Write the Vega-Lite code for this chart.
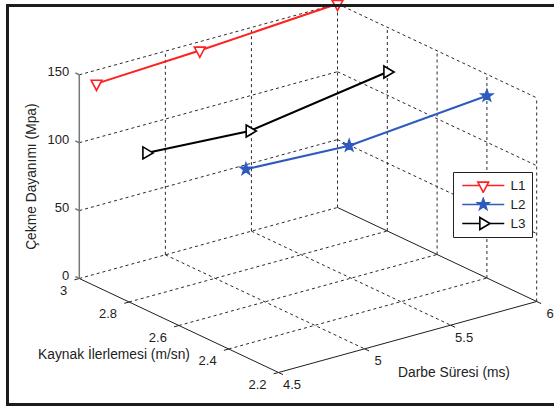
{
  "$schema": "https://vega.github.io/schema/vega-lite/v6.json",
  "width": 554,
  "height": 407,
  "autosize": {"type": "none", "contains": "padding"},
  "padding": {"left": 7, "top": 5, "right": 0, "bottom": 3},
  "background": "white",
  "config": {
    "view": {"stroke": null},
    "legend": {
      "orient": "none",
      "legendX": 446,
      "legendY": 167,
      "padding": 6,
      "strokeColor": "#222222",
      "fillColor": "white",
      "symbolSize": 144,
      "symbolStrokeWidth": 1.6,
      "symbolOffset": 17.25,
      "labelOffset": 20.25,
      "labelFont": "Liberation Sans",
      "labelFontSize": 13.5,
      "labelColor": "#222222",
      "clipHeight": 15,
      "rowPadding": 4
    }
  },
  "data": {
    "values": [
      {"kind": "pt", "series": "L1", "x": 4.6, "y": 3.0, "z": 140.0},
      {"kind": "pt", "series": "L1", "x": 5.2, "y": 3.0, "z": 143.5},
      {"kind": "pt", "series": "L1", "x": 6.0, "y": 3.0, "z": 150.0},
      {"kind": "pt", "series": "L2", "x": 4.6, "y": 2.4, "z": 128.9},
      {"kind": "pt", "series": "L2", "x": 5.2, "y": 2.4, "z": 125.3},
      {"kind": "pt", "series": "L2", "x": 6.0, "y": 2.4, "z": 134.2},
      {"kind": "pt", "series": "L3", "x": 4.6, "y": 2.8, "z": 106.3},
      {"kind": "pt", "series": "L3", "x": 5.2, "y": 2.8, "z": 101.5},
      {"kind": "pt", "series": "L3", "x": 6.0, "y": 2.8, "z": 117.1},

      {"kind": "grid", "x": 5.0, "y": 3.0, "z": 0, "x2": 5.0, "y2": 2.2, "z2": 0},
      {"kind": "grid", "x": 5.5, "y": 3.0, "z": 0, "x2": 5.5, "y2": 2.2, "z2": 0},
      {"kind": "grid", "x": 4.5, "y": 3.0, "z": 0, "x2": 6.0, "y2": 3.0, "z2": 0},
      {"kind": "grid", "x": 4.5, "y": 2.8, "z": 0, "x2": 6.0, "y2": 2.8, "z2": 0},
      {"kind": "grid", "x": 4.5, "y": 2.6, "z": 0, "x2": 6.0, "y2": 2.6, "z2": 0},
      {"kind": "grid", "x": 4.5, "y": 2.4, "z": 0, "x2": 6.0, "y2": 2.4, "z2": 0},
      {"kind": "grid", "x": 5.0, "y": 3.0, "z": 0, "x2": 5.0, "y2": 3.0, "z2": 150},
      {"kind": "grid", "x": 5.5, "y": 3.0, "z": 0, "x2": 5.5, "y2": 3.0, "z2": 150},
      {"kind": "grid", "x": 6.0, "y": 3.0, "z": 0, "x2": 6.0, "y2": 3.0, "z2": 150},
      {"kind": "grid", "x": 4.5, "y": 3.0, "z": 50, "x2": 6.0, "y2": 3.0, "z2": 50},
      {"kind": "grid", "x": 4.5, "y": 3.0, "z": 100, "x2": 6.0, "y2": 3.0, "z2": 100},
      {"kind": "grid", "x": 4.5, "y": 3.0, "z": 150, "x2": 6.0, "y2": 3.0, "z2": 150},
      {"kind": "grid", "x": 6.0, "y": 2.8, "z": 0, "x2": 6.0, "y2": 2.8, "z2": 150},
      {"kind": "grid", "x": 6.0, "y": 2.6, "z": 0, "x2": 6.0, "y2": 2.6, "z2": 150},
      {"kind": "grid", "x": 6.0, "y": 2.4, "z": 0, "x2": 6.0, "y2": 2.4, "z2": 150},
      {"kind": "grid", "x": 6.0, "y": 2.2, "z": 0, "x2": 6.0, "y2": 2.2, "z2": 150},
      {"kind": "grid", "x": 6.0, "y": 3.0, "z": 50, "x2": 6.0, "y2": 2.2, "z2": 50},
      {"kind": "grid", "x": 6.0, "y": 3.0, "z": 100, "x2": 6.0, "y2": 2.2, "z2": 100},
      {"kind": "grid", "x": 6.0, "y": 3.0, "z": 150, "x2": 6.0, "y2": 2.2, "z2": 150},

      {"kind": "axis", "x": 4.5, "y": 3.0, "z": 0, "x2": 4.5, "y2": 2.2, "z2": 0},
      {"kind": "axis", "x": 4.5, "y": 2.2, "z": 0, "x2": 6.0, "y2": 2.2, "z2": 0},
      {"kind": "axis", "x": 6.0, "y": 3.0, "z": 0, "x2": 6.0, "y2": 2.2, "z2": 0},
      {"kind": "zaxis", "x": 4.5, "y": 3.0, "z": 0, "x2": 4.5, "y2": 3.0, "z2": 150},

      {"kind": "ztick", "x": 4.5, "y": 3.0, "z": 0, "x2": 4.5, "y2": 3.016, "z2": 0},
      {"kind": "ztick", "x": 4.5, "y": 3.0, "z": 50, "x2": 4.5, "y2": 3.016, "z2": 50},
      {"kind": "ztick", "x": 4.5, "y": 3.0, "z": 100, "x2": 4.5, "y2": 3.016, "z2": 100},
      {"kind": "ztick", "x": 4.5, "y": 3.0, "z": 150, "x2": 4.5, "y2": 3.016, "z2": 150},
      {"kind": "tick", "x": 4.5, "y": 3.0, "z": 0, "x2": 4.472, "y2": 3.0, "z2": 0},
      {"kind": "tick", "x": 4.5, "y": 2.8, "z": 0, "x2": 4.472, "y2": 2.8, "z2": 0},
      {"kind": "tick", "x": 4.5, "y": 2.6, "z": 0, "x2": 4.472, "y2": 2.6, "z2": 0},
      {"kind": "tick", "x": 4.5, "y": 2.4, "z": 0, "x2": 4.472, "y2": 2.4, "z2": 0},
      {"kind": "tick", "x": 4.5, "y": 2.2, "z": 0, "x2": 4.472, "y2": 2.2, "z2": 0},
      {"kind": "tick", "x": 4.5, "y": 2.2, "z": 0, "x2": 4.5, "y2": 2.182, "z2": 0},
      {"kind": "tick", "x": 5.0, "y": 2.2, "z": 0, "x2": 5.0, "y2": 2.182, "z2": 0},
      {"kind": "tick", "x": 5.5, "y": 2.2, "z": 0, "x2": 5.5, "y2": 2.182, "z2": 0},
      {"kind": "tick", "x": 6.0, "y": 2.2, "z": 0, "x2": 6.0, "y2": 2.182, "z2": 0},

      {"kind": "zl", "x": 4.5, "y": 3.0, "z": 0, "label": "0"},
      {"kind": "zl", "x": 4.5, "y": 3.0, "z": 50, "label": "50"},
      {"kind": "zl", "x": 4.5, "y": 3.0, "z": 100, "label": "100"},
      {"kind": "zl", "x": 4.5, "y": 3.0, "z": 150, "label": "150"},
      {"kind": "yl", "x": 4.5, "y": 3.0, "z": 0, "label": "3"},
      {"kind": "yl", "x": 4.5, "y": 2.8, "z": 0, "label": "2.8"},
      {"kind": "yl", "x": 4.5, "y": 2.6, "z": 0, "label": "2.6"},
      {"kind": "yl", "x": 4.5, "y": 2.4, "z": 0, "label": "2.4"},
      {"kind": "yl", "x": 4.5, "y": 2.2, "z": 0, "label": "2.2"},
      {"kind": "xl", "x": 4.5, "y": 2.2, "z": 0, "label": "4.5"},
      {"kind": "xl", "x": 5.0, "y": 2.2, "z": 0, "label": "5"},
      {"kind": "xl", "x": 5.5, "y": 2.2, "z": 0, "label": "5.5"},
      {"kind": "xl", "x": 6.0, "y": 2.2, "z": 0, "label": "6"},

      {"kind": "tz", "x": 4.5, "y": 3.0, "z": 75, "label": "Çekme Dayanımı (Mpa)"},
      {"kind": "ty", "x": 4.5, "y": 2.6, "z": 0, "label": "Kaynak İlerlemesi (m/sn)"},
      {"kind": "tx", "x": 5.25, "y": 2.2, "z": 0, "label": "Darbe Süresi (ms)"}
    ]
  },
  "transform": [
    {"calculate": "258.2*(datum.x-4.5)/1.5 + 199.2*(3-datum.y)/0.8", "as": "sx"},
    {"calculate": "-71*(datum.x-4.5)/1.5 + 94*(3-datum.y)/0.8 - 203.7*datum.z/150", "as": "sy"},
    {"calculate": "258.2*(datum.x2-4.5)/1.5 + 199.2*(3-datum.y2)/0.8", "as": "sx2"},
    {"calculate": "-71*(datum.x2-4.5)/1.5 + 94*(3-datum.y2)/0.8 - 203.7*datum.z2/150", "as": "sy2"}
  ],
  "encoding": {
    "x": {"field": "sx", "type": "quantitative", "scale": {"domain": [-72.3, 474.7], "nice": false, "zero": false}, "axis": null},
    "y": {"field": "sy", "type": "quantitative", "scale": {"domain": [-273.5, 125.5], "nice": false, "zero": false, "reverse": true}, "axis": null}
  },
  "layer": [
    {
      "transform": [{"filter": "datum.kind == 'grid'"}],
      "mark": {"type": "rule", "stroke": "#2a2a2a", "strokeWidth": 1, "strokeDash": [3, 3]},
      "encoding": {
        "x": {"field": "sx", "type": "quantitative", "scale": {"domain": [-72.3, 474.7], "nice": false, "zero": false},
              "axis": {"orient": "top", "domain": true, "domainColor": "#1c1c1c", "domainWidth": 3, "domainCap": "square", "ticks": false, "labels": false, "grid": false, "title": null, "zindex": 1}},
        "x2": {"field": "sx2"}, "y2": {"field": "sy2"}
      }
    },
    {
      "transform": [{"filter": "datum.kind == 'axis' || datum.kind == 'tick'"}],
      "mark": {"type": "rule", "stroke": "#1e1e1e", "strokeWidth": 1},
      "encoding": {
        "x": {"field": "sx", "type": "quantitative", "scale": {"domain": [-72.3, 474.7], "nice": false, "zero": false},
              "axis": {"orient": "bottom", "domain": true, "domainColor": "#1c1c1c", "domainWidth": 3, "domainCap": "square", "ticks": false, "labels": false, "grid": false, "title": null, "zindex": 1}},
        "y": {"field": "sy", "type": "quantitative", "scale": {"domain": [-273.5, 125.5], "nice": false, "zero": false, "reverse": true},
              "axis": {"orient": "left", "domain": true, "domainColor": "#1c1c1c", "domainWidth": 3, "domainCap": "square", "ticks": false, "labels": false, "grid": false, "title": null, "zindex": 1}},
        "x2": {"field": "sx2"}, "y2": {"field": "sy2"}
      }
    },
    {
      "transform": [{"filter": "datum.kind == 'zaxis' || datum.kind == 'ztick'"}],
      "mark": {"type": "rule", "stroke": "#777777", "strokeWidth": 1.5},
      "encoding": {"x2": {"field": "sx2"}, "y2": {"field": "sy2"}}
    },
    {
      "transform": [{"filter": "datum.kind == 'pt'"}],
      "mark": {"type": "line", "strokeWidth": 2},
      "encoding": {
        "stroke": {"field": "series", "type": "nominal", "scale": {"domain": ["L1", "L2", "L3"], "range": ["#ff2020", "#2f5bbd", "#000000"]}, "legend": null},
        "order": {"field": "x", "type": "quantitative"}
      }
    },
    {
      "transform": [{"filter": "datum.kind == 'pt'"}],
      "mark": {"type": "point", "filled": false, "opacity": 1, "size": 144, "strokeWidth": 1.6},
      "encoding": {
        "shape": {"field": "series", "type": "nominal", "scale": {"domain": ["L1", "L2", "L3"], "range": [
          "M-0.9,-0.567L0.9,-0.567L0,1.133Z",
          "M0,-1L0.235,-0.324L0.951,-0.309L0.38,0.124L0.588,0.809L0,0.4L-0.588,0.809L-0.38,0.124L-0.951,-0.309L-0.235,-0.324Z",
          "M-0.567,-1L1.133,0L-0.567,1Z"
        ]}, "legend": null},
        "stroke": {"field": "series", "type": "nominal", "scale": {"domain": ["L1", "L2", "L3"], "range": ["#ff2020", "#2f5bbd", "#000000"]}, "legend": null},
        "fill": {"field": "series", "type": "nominal", "scale": {"domain": ["L1", "L2", "L3"], "range": ["#ffffff", "#2f5bbd", "#ffffff"]}, "legend": null}
      }
    },
    {
      "transform": [{"filter": "datum.kind == 'legendonly'"}],
      "mark": {"type": "point", "filled": false, "opacity": 1, "size": 144, "strokeWidth": 1.6},
      "encoding": {
        "shape": {"field": "series", "type": "nominal", "title": null, "scale": {"domain": ["L1", "L2", "L3"], "range": [
          "M-3.5,0L-0.6,0M0.6,0L3.5,0M-0.9,-0.567L0.9,-0.567L0,1.133Z",
          "M-3.5,0L3.5,0M0,-1L0.235,-0.324L0.951,-0.309L0.38,0.124L0.588,0.809L0,0.4L-0.588,0.809L-0.38,0.124L-0.951,-0.309L-0.235,-0.324Z",
          "M-3.5,0L-0.567,0M1.133,0L3.5,0M-0.567,-1L1.133,0L-0.567,1Z"
        ]}},
        "stroke": {"field": "series", "type": "nominal", "title": null, "scale": {"domain": ["L1", "L2", "L3"], "range": ["#ff2020", "#2f5bbd", "#000000"]}},
        "fill": {"field": "series", "type": "nominal", "title": null, "scale": {"domain": ["L1", "L2", "L3"], "range": ["#ffffff", "#2f5bbd", "#ffffff"]}}
      }
    },
    {
      "transform": [{"filter": "datum.kind == 'zl'"}],
      "mark": {"type": "text", "align": "right", "baseline": "middle", "dx": -10, "dy": -3, "font": "Liberation Sans", "fontSize": 13, "color": "#222222"},
      "encoding": {"text": {"field": "label"}}
    },
    {
      "transform": [{"filter": "datum.kind == 'yl'"}],
      "mark": {"type": "text", "align": "right", "baseline": "middle", "dx": -12, "dy": 12, "font": "Liberation Sans", "fontSize": 13, "color": "#222222"},
      "encoding": {"text": {"field": "label"}}
    },
    {
      "transform": [{"filter": "datum.kind == 'xl'"}],
      "mark": {"type": "text", "align": "center", "baseline": "middle", "dx": 13.5, "dy": 12.5, "font": "Liberation Sans", "fontSize": 13, "color": "#222222"},
      "encoding": {"text": {"field": "label"}}
    },
    {
      "transform": [{"filter": "datum.kind == 'tz'"}],
      "mark": {"type": "text", "align": "center", "baseline": "middle", "angle": 270, "dy": -47, "font": "Liberation Sans", "fontSize": 13.8, "color": "#222222"},
      "encoding": {"text": {"field": "label"}}
    },
    {
      "transform": [{"filter": "datum.kind == 'ty'"}],
      "mark": {"type": "text", "align": "center", "baseline": "middle", "dx": -64.9, "dy": 29.5, "font": "Liberation Sans", "fontSize": 13.8, "color": "#222222"},
      "encoding": {"text": {"field": "label"}}
    },
    {
      "transform": [{"filter": "datum.kind == 'tx'"}],
      "mark": {"type": "text", "align": "center", "baseline": "middle", "dx": 46.4, "dy": 36.1, "font": "Liberation Sans", "fontSize": 13.8, "color": "#222222"},
      "encoding": {"text": {"field": "label"}}
    }
  ],
  "resolve": {
    "scale": {"shape": "independent", "stroke": "independent", "fill": "independent"},
    "axis": {"x": "independent", "y": "independent"}
  }
}
